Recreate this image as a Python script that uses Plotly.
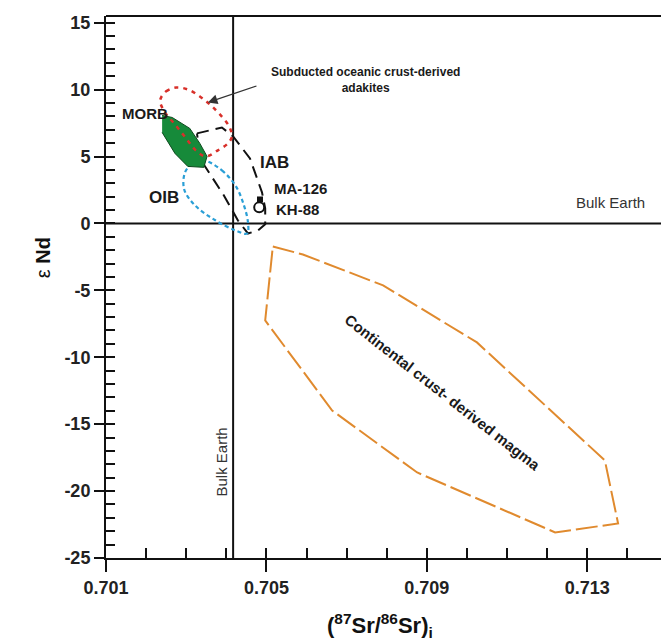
import plotly.graph_objects as go

# ---- data ----
morb_x = [0.70240, 0.70265, 0.70309, 0.70334, 0.70352, 0.70344, 0.70304, 0.70272, 0.70240]
morb_y = [8.07, 7.92, 7.10, 5.98, 5.01, 4.19, 4.26, 5.23, 6.80]

adakite_x = [0.70235, 0.70250, 0.70275, 0.70304, 0.70334, 0.70359, 0.70384, 0.70407, 0.70414,
             0.70404, 0.70379, 0.70349, 0.70324, 0.70300, 0.70272, 0.70247, 0.70235]
adakite_y = [9.19, 9.87, 10.16, 10.01, 9.49, 8.89, 8.15, 7.25, 6.50,
             5.98, 5.46, 5.01, 5.46, 6.35, 7.40, 8.30, 9.19]

oib_x = [0.70344, 0.70389, 0.70424, 0.70444, 0.70454, 0.70452, 0.70422, 0.70369, 0.70322,
         0.70295, 0.70297, 0.70314, 0.70344]
oib_y = [4.71, 3.96, 2.77, 1.35, 0.07, -0.75, -0.52, 0.30, 1.35, 2.54, 3.81, 4.41, 4.71]

iab_x = [0.70327, 0.70389, 0.70417, 0.70459, 0.70489, 0.70497, 0.70497, 0.70479, 0.70454,
         0.70429, 0.70394, 0.70354, 0.70334, 0.70327]
iab_y = [6.73, 7.17, 6.50, 4.86, 2.32, 1.12, -0.07, -0.52, -0.75, 0.22, 2.09, 3.96, 4.86, 6.73]

crust_x = [0.70516, 0.70591, 0.70791, 0.71025, 0.71344, 0.71377, 0.71220, 0.70876, 0.70664, 0.70497, 0.70516]
crust_y = [-1.72, -2.32, -4.63, -8.89, -17.71, -22.42, -23.09, -18.61, -13.98, -7.25, -1.72]

sample_names = ["MA-126", "KH-88"]
sample_x = [0.70484, 0.70482]
sample_y = [1.79, 1.20]

bulk_earth_sr = 0.70417
bulk_earth_nd = 0.0

x_range = [0.701, 0.71484]
y_range = [-25, 15.5]
x_ticks = [0.701, 0.705, 0.709, 0.713]
y_ticks = [15, 10, 5, 0, -5, -10, -15, -20, -25]
y_ticklabels = ["15", "10", "5", "0", "-5", "-10", "-15", "-20", "-25"]

FONT = "Liberation Sans, Arial, sans-serif"

fig = go.Figure()

# reference lines
fig.add_trace(go.Scatter(x=[bulk_earth_sr, bulk_earth_sr], y=y_range, mode="lines",
                         line=dict(color="#111", width=2), hoverinfo="skip", showlegend=False))
fig.add_trace(go.Scatter(x=x_range, y=[bulk_earth_nd, bulk_earth_nd], mode="lines",
                         line=dict(color="#111", width=2), hoverinfo="skip", showlegend=False))

# fields
fig.add_trace(go.Scatter(x=iab_x, y=iab_y, mode="lines",
                         line=dict(color="#111", width=2, dash="12px,7px"), showlegend=False))
fig.add_trace(go.Scatter(x=oib_x, y=oib_y, mode="lines", line_shape="spline",
                         line=dict(color="#2a9fd6", width=2.2, dash="4px,3px"), showlegend=False))
fig.add_trace(go.Scatter(x=morb_x, y=morb_y, mode="lines", fill="toself",
                         fillcolor="#168a3a", line=dict(color="#0d4a1e", width=1), showlegend=False))
fig.add_trace(go.Scatter(x=adakite_x, y=adakite_y, mode="lines", line_shape="spline",
                         line=dict(color="#d8302a", width=2.5, dash="4px,5px"), showlegend=False))
fig.add_trace(go.Scatter(x=crust_x, y=crust_y, mode="lines",
                         line=dict(color="#e08a2e", width=2, dash="22px,5px"), showlegend=False))

# samples
fig.add_trace(go.Scatter(x=[sample_x[0]], y=[sample_y[0]], mode="markers",
                         marker=dict(symbol="square", size=6, color="#111"), showlegend=False))
fig.add_trace(go.Scatter(x=[sample_x[1]], y=[sample_y[1]], mode="markers",
                         marker=dict(symbol="circle-open", size=10, color="#111", line=dict(width=2)),
                         showlegend=False))

# invisible trace on overlay axes (for the inside ticks that cross the major ones)
fig.add_trace(go.Scatter(x=[bulk_earth_sr], y=[bulk_earth_nd], xaxis="x2", yaxis="y2",
                         mode="markers", marker=dict(opacity=0), hoverinfo="skip", showlegend=False))

ann = []
def lab(text, x, y, size, bold=True, xanchor="center", angle=0, color="#1a1a1a"):
    t = f"<b>{text}</b>" if bold else text
    ann.append(dict(text=t, x=x, y=y, xref="x", yref="y", showarrow=False, xanchor=xanchor,
                    yanchor="middle", textangle=angle, font=dict(family=FONT, size=size, color=color)))

lab("MORB", 0.70197, 8.22, 15)
lab("IAB", 0.70521, 4.56, 17)
lab("OIB", 0.70245, 1.94, 17)
lab(sample_names[0], 0.70514, 2.62, 15, xanchor="left")
lab(sample_names[1], 0.70519, 1.05, 15, xanchor="left")
lab("Subducted oceanic crust-derived<br>adakites", 0.70746, 10.69, 12)
lab("Continental crust- derived magma", 0.70940, -12.63, 15, angle=38)
lab("Bulk Earth", 0.70387, -17.86, 15, bold=False, angle=-90, color="#333")
lab("Bulk Earth", 0.71357, 1.57, 15, bold=False, color="#333")

# arrow
ann.append(dict(x=0.70354, y=9.04, ax=0.70479, ay=10.31, xref="x", yref="y", axref="x", ayref="y",
                showarrow=True, arrowhead=2, arrowsize=1.6, arrowwidth=1.2, arrowcolor="#333", text=""))

# axis titles
ann.append(dict(text="ε <b>Nd</b>", x=-0.137, y=0.555, xref="paper", yref="paper", showarrow=False,
                textangle=-90, font=dict(family=FONT, size=20, color="#111")))
ann.append(dict(text="<b>(<sup>87</sup>Sr/<sup>86</sup>Sr)<sub>i</sub></b>", x=0.494, y=-0.124,
                xref="paper", yref="paper", showarrow=False, yanchor="middle",
                font=dict(family=FONT, size=22, color="#111")))

fig.update_layout(
    width=661, height=643,
    margin=dict(l=106, r=0, t=16, b=85),
    paper_bgcolor="white", plot_bgcolor="white",
    showlegend=False,
    annotations=ann,
    xaxis=dict(range=x_range, tickmode="array", tickvals=x_ticks,
               ticktext=[f"{v:.3f}" for v in x_ticks], ticks="outside", ticklen=12, tickwidth=2,
               tickcolor="#111", showline=True, linecolor="#111", linewidth=2, showgrid=False,
               zeroline=False, tickfont=dict(family=FONT, size=18, color="#222", weight="bold")),
    yaxis=dict(range=y_range, tickmode="array", tickvals=y_ticks, ticktext=y_ticklabels,
               ticks="outside", ticklen=10,
               tickwidth=2, tickcolor="#111", showline=True, linecolor="#111", linewidth=2,
               showgrid=False, zeroline=False,
               tickfont=dict(family=FONT, size=18, color="#222", weight="bold")),
    xaxis2=dict(overlaying="x", matches="x", anchor="y2", side="bottom", ticks="inside",
                ticklen=10, tickwidth=2, tickcolor="#111", tick0=0.701, dtick=0.001,
                showticklabels=False, showgrid=False, zeroline=False, showline=False),
    yaxis2=dict(overlaying="y", matches="y", anchor="x2", side="left", ticks="inside",
                ticklen=9, tickwidth=2, tickcolor="#111", tick0=0, dtick=1,
                showticklabels=False, showgrid=False, zeroline=False, showline=False),
    shapes=[dict(type="line", xref="paper", yref="paper", x0=0, x1=1, y0=1, y1=1,
                 line=dict(color="#111", width=2))],
)

fig.write_html("out.html", config={"displayModeBar": False, "staticPlot": True},
               post_script="document.body.style.margin='0px';document.body.style.overflow='hidden';")
